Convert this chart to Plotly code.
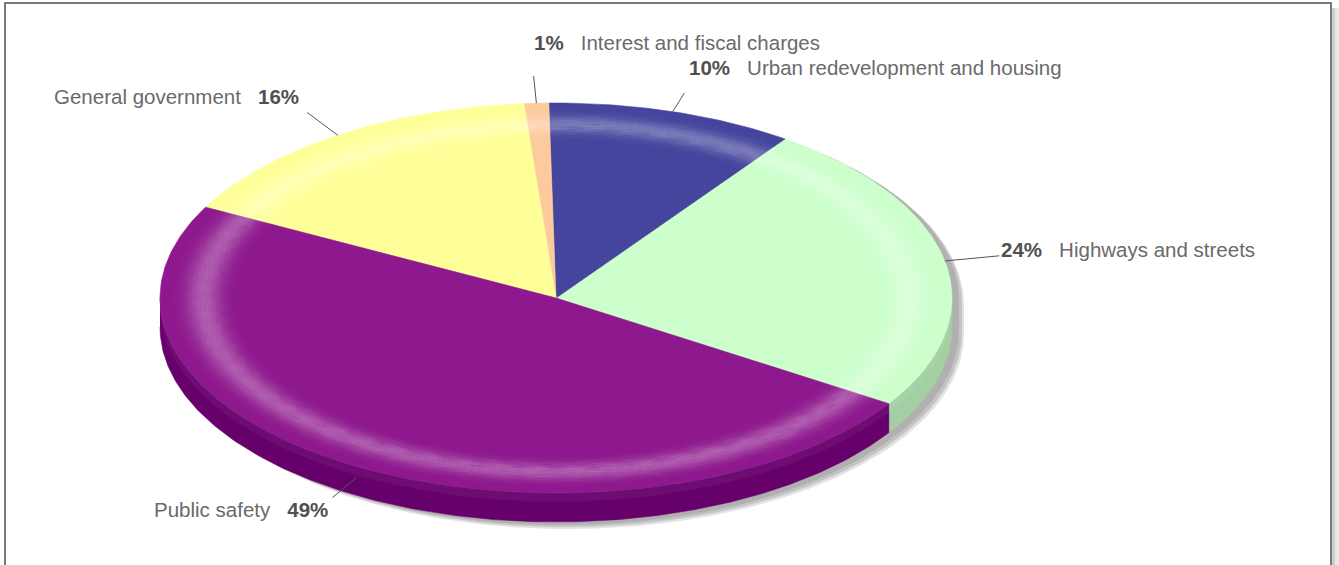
import numpy as np
import plotly.graph_objects as go

# ---------------- data ----------------
categories = ["Highways and streets", "Urban redevelopment and housing",
              "Interest and fiscal charges", "General government", "Public safety"]
values = [24.3, 10.1, 1.0, 16.0, 48.6]

# ---------------- styles ----------------
top_colors = ["#ccffcc", "#45459e", "#fdca9e", "#ffff99", "#8e198e"]
side_colors = ["#a3cfa3", "#2f2f78", "#d0a070", "#d0d070", "#66006a"]
# per-label layout: (leader radial factor, text dx, text dy)
label_layout = [(1.14, 0, -6), (1.10, 3, -26), (1.14, -2, -33), (1.14, -6, -16), (1.12, -2, 12)]

W, H = 1339, 565
CX, CY, RX, RY, DEPTH = 556, 298, 396, 195, 29
START_DEG = -32.8
N = 240

total = float(sum(values))
spans = [v / total * 360.0 for v in values]
starts = START_DEG + np.concatenate([[0], np.cumsum(spans)[:-1]])
ends = starts + np.array(spans)


def ell(t_deg, k=1.0, dy=0.0):
    t = np.radians(t_deg)
    return CX + k * RX * np.cos(t), CY - k * RY * np.sin(t) + dy


fig = go.Figure()


def add_poly(xs, ys, color, line_color=None, lw=0.0):
    fig.add_trace(go.Scatter(
        x=list(xs), y=list(ys), mode="lines", fill="toself",
        fillcolor=color, line=dict(color=line_color or color, width=lw),
        hoverinfo="skip", showlegend=False))


# ---------------- shadow ----------------
t_back = np.linspace(0, 180, N)
t_front = np.linspace(180, 360, N)
bx, by = ell(t_back)
fx, fy = ell(t_front, dy=DEPTH)
sx = np.concatenate([bx, fx])
sy = np.concatenate([by, fy])
for (ox, oy, col) in [(12, 7, "rgba(160,160,160,0.30)"),
                      (10, 5, "rgba(160,160,160,0.45)"),
                      (7, 3, "rgba(160,160,160,0.55)")]:
    add_poly(sx + ox, sy + oy, col)

# ---------------- sides (front half) ----------------
def side_ranges(i):
    out = []
    for base in (0.0, 360.0, -360.0):
        a = max(starts[i] + base, 180.0)
        b = min(ends[i] + base, 360.0)
        if b > a:
            out.append((a, b))
    return out


for i in range(len(values)):
    for a, b in side_ranges(i):
        tt = np.linspace(a, b, max(int((b - a) / 360 * N * 2), 4))
        x1, y1 = ell(tt)
        x2, y2 = ell(tt[::-1], dy=DEPTH)
        add_poly(np.concatenate([x1, x2]), np.concatenate([y1, y2]),
                 side_colors[i], lw=0.5)
        x2, y2 = ell(tt[::-1], dy=DEPTH * 0.3)
        add_poly(np.concatenate([x1, x2]), np.concatenate([y1, y2]),
                 "rgba(255,255,255,0.05)")

# ---------------- top faces ----------------
for i in range(len(values)):
    tt = np.linspace(starts[i], ends[i], max(int(spans[i] / 360 * N * 2), 6))
    ax, ay = ell(tt)
    xs = np.concatenate([[CX], ax, [CX]])
    ys = np.concatenate([[CY], ay, [CY]])
    add_poly(xs, ys, top_colors[i], lw=0.6)

# ---------------- soft bevel highlight ring ----------------
ks = np.arange(0.76, 0.995, 0.005)
tt = np.linspace(0, 360, N * 2)
for k1, k2 in zip(ks[:-1], ks[1:]):
    km = 0.5 * (k1 + k2)
    alpha = 0.30 * np.exp(-0.5 * ((km - 0.89) / 0.03) ** 2)
    if alpha < 0.01:
        continue
    ox, oy = ell(tt, k2)
    ix, iy = ell(tt[::-1], k1)
    add_poly(np.concatenate([ox, ix]), np.concatenate([oy, iy]),
             "rgba(255,255,255,%.3f)" % alpha)

# ---------------- labels with leader lines ----------------
annotations = []
for i, cat in enumerate(categories):
    mid = 0.5 * (starts[i] + ends[i])
    k, dx, dy = label_layout[i]
    front = np.sin(np.radians(mid)) < 0
    off = DEPTH * 0.38 if front else 0.0
    x0, y0 = ell(mid, 1.0, off)
    x1, y1 = ell(mid, k, off)
    fig.add_trace(go.Scatter(x=[x0, x1], y=[y0, y1], mode="lines",
                             line=dict(color="#555555", width=1),
                             hoverinfo="skip", showlegend=False))
    pct = "%d%%" % round(values[i] / total * 100)
    right = np.cos(np.radians(mid)) > -0.1
    sp = "\u00a0\u00a0\u00a0"
    bold = "<span style='color:#505050'><b>%s</b></span>" % pct
    txt = (bold + sp + cat) if right else (cat + sp + bold)
    annotations.append(dict(
        x=x1 + dx, y=y1 + dy, xref="x", yref="y", text=txt, showarrow=False,
        xanchor="left" if right else "right", yanchor="middle",
        font=dict(family="Liberation Sans, Arial, sans-serif", size=20.5, color="#6a6a6a")))

# ---------------- frame ----------------
shapes = [
    dict(type="rect", xref="x", yref="y", x0=1332, x1=1335, y0=8, y1=570,
         fillcolor="#cfcfcf", line=dict(width=0), layer="below"),
    dict(type="rect", xref="x", yref="y", x0=1335, x1=1339, y0=8, y1=570,
         fillcolor="#e8e8e8", line=dict(width=0), layer="below"),
    dict(type="rect", xref="x", yref="y", x0=5, x1=1331, y0=3, y1=575,
         fillcolor="rgba(0,0,0,0)", line=dict(color="#4d4d4d", width=1.5)),
]

fig.update_layout(
    width=W, height=H, margin=dict(l=0, r=0, t=0, b=0),
    paper_bgcolor="white", plot_bgcolor="white",
    xaxis=dict(range=[0, W], visible=False, fixedrange=True),
    yaxis=dict(range=[H, 0], visible=False, fixedrange=True),
    annotations=annotations, shapes=shapes, showlegend=False,
)

fig.write_html("out.html")
